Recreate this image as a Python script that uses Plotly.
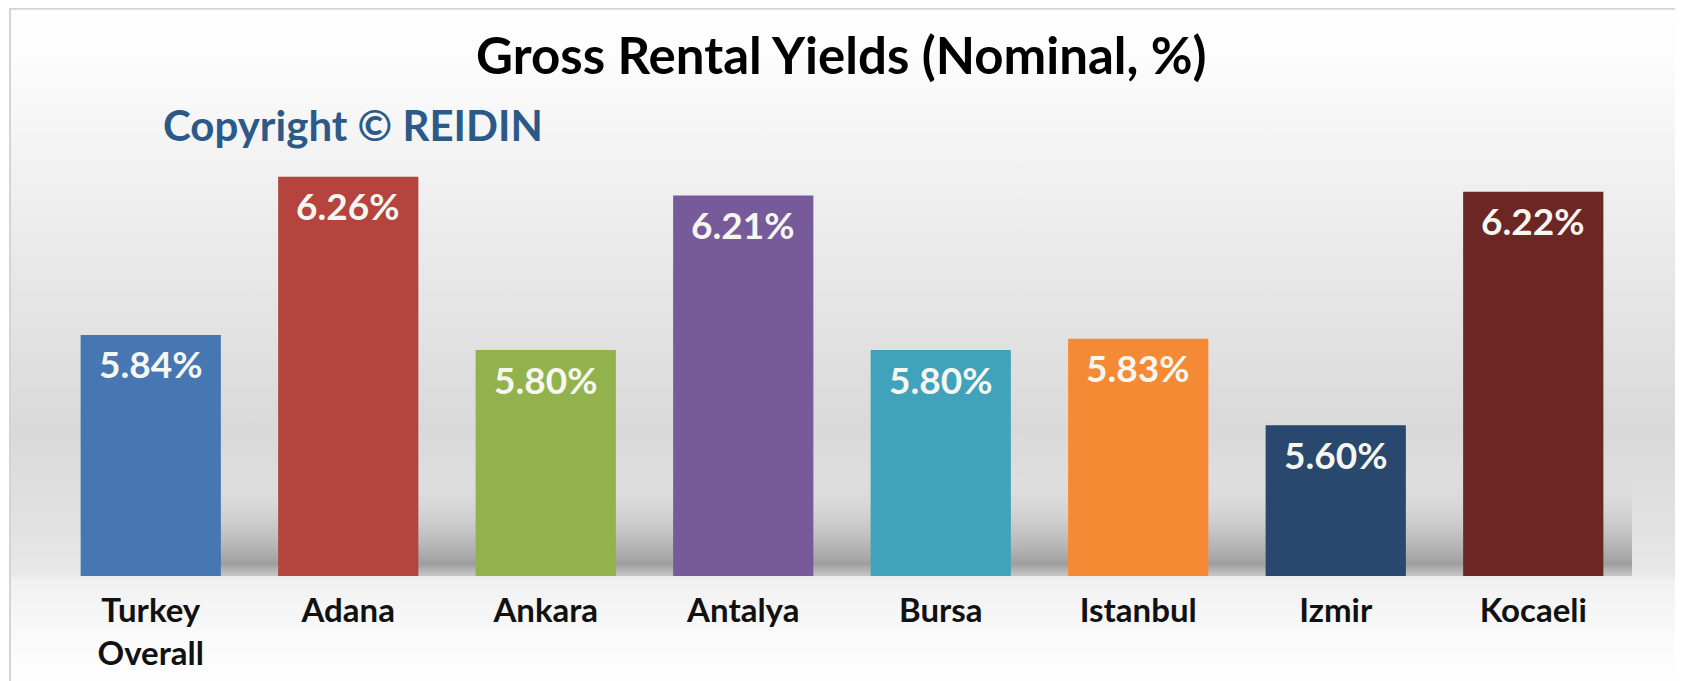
import plotly.graph_objects as go

# ---- data ----
categories = ["Turkey<br>Overall", "Adana", "Ankara", "Antalya", "Bursa", "Istanbul", "Izmir", "Kocaeli"]
yields = [5.84, 6.26, 5.80, 6.21, 5.80, 5.83, 5.60, 6.22]
labels = ["5.84%", "6.26%", "5.80%", "6.21%", "5.80%", "5.83%", "5.60%", "6.22%"]
bar_colors = ["#4677b3", "#b5443f", "#92b24e", "#775a99", "#41a2bc", "#f58a35", "#29486e", "#6c2624"]

W, H = 1683, 681
OFF = 8  # page body margin offset
Y_MIN, Y_MAX = 5.2, 6.4
BAR_WIDTH = 0.71
FONT = "Lato"

PX0, PX1 = 52 - OFF, 1632 - OFF      # plot area (figure px)
PY0, PY1 = 124 - OFF, 576 - OFF

fig = go.Figure()

# ---- background gradient (full-page pixel subplot) ----
bg_stops = [(0, "#fefefe"), (52, "#fcfcfc"), (142, "#f3f3f3"), (292, "#e5e5e5"),
            (422, "#d9d9d9"), (522, "#e2e2e2"), (567, "#e9e9e9"), (572, "#f1f1f1"),
            (632, "#fafafa"), (681, "#ffffff")]
fig.add_trace(go.Scatter(
    x=[10 - OFF, 1677 - OFF, 1677 - OFF, 10 - OFF, 10 - OFF], y=[0, 0, H, H, 0],
    xaxis="x", yaxis="y",
    mode="lines", line=dict(width=0), fill="toself",
    fillgradient=dict(type="vertical", start=0, stop=H,
                      colorscale=[[p / H, c] for p, c in bg_stops]),
    hoverinfo="skip", showlegend=False))

# ---- soft floor shadow behind bars (own subplot, drawn beneath bars) ----
n = len(categories)
sx0 = -BAR_WIDTH / 2 + 0.1
sx1 = n - 0.5
sh = 0.26
fig.add_trace(go.Scatter(
    x=[sx0, sx1, sx1, sx0, sx0], y=[Y_MIN, Y_MIN, Y_MIN + sh, Y_MIN + sh, Y_MIN],
    xaxis="x2", yaxis="y2", mode="lines", line=dict(width=0), fill="toself",
    fillgradient=dict(type="vertical", start=Y_MIN, stop=Y_MIN + sh,
                      colorscale=[[0, "rgba(170,170,170,0.55)"], [0.12, "rgba(140,140,140,0.8)"],
                                  [0.45, "rgba(165,165,165,0.5)"], [1, "rgba(215,215,215,0)"]]),
    hoverinfo="skip", showlegend=False))

# ---- bars ----
fig.add_trace(go.Bar(
    x=list(range(n)), y=[v - Y_MIN for v in yields], base=Y_MIN,
    xaxis="x3", yaxis="y3", width=BAR_WIDTH,
    marker=dict(color=bar_colors, line=dict(width=0)),
    hoverinfo="skip", showlegend=False))

# ---- data labels ----
for i, (v, t) in enumerate(zip(yields, labels)):
    fig.add_annotation(x=i, y=v, xref="x3", yref="y3", text=t, showarrow=False,
                       yanchor="middle", yshift=-29,
                       font=dict(family=FONT, size=37, color="#f7f7f2", weight="bold"))

# ---- title & copyright ----
fig.add_annotation(x=(841 - OFF) / W, y=1 - (55 - OFF) / H, xref="paper", yref="paper",
                   text="Gross Rental Yields (Nominal, %)", showarrow=False,
                   xanchor="center", yanchor="middle",
                   font=dict(family=FONT, size=51, color="#000000", weight="bold"))
fig.add_annotation(x=(161 - OFF) / W, y=1 - (125 - OFF) / H, xref="paper", yref="paper",
                   text="Copyright © REIDIN", showarrow=False,
                   xanchor="left", yanchor="middle",
                   font=dict(family=FONT, size=42, color="#2c5a88", weight="bold"))

# ---- border ----
fig.add_shape(type="rect", xref="paper", yref="paper",
              x0=(10 - OFF) / W, x1=(1677 - OFF) / W, y0=-0.02, y1=0.999,
              line=dict(color="#d4d4d4", width=2), fillcolor="rgba(0,0,0,0)", layer="above")

ydom = [(H - PY1) / H, (H - PY0) / H]
xdom = [PX0 / W, PX1 / W]
fig.update_layout(
    width=W, height=H,
    margin=dict(l=0, r=0, t=0, b=0),
    paper_bgcolor="#ffffff", plot_bgcolor="rgba(0,0,0,0)",
    showlegend=False,
    xaxis=dict(domain=[0, 1], range=[0, W], visible=False, fixedrange=True),
    yaxis=dict(domain=[0, 1], range=[H, 0], visible=False, fixedrange=True),
    xaxis2=dict(domain=xdom, range=[-0.5, n - 0.5], anchor="y2", visible=False),
    yaxis2=dict(domain=ydom, range=[Y_MIN, Y_MAX], anchor="x2", visible=False),
    xaxis3=dict(domain=xdom, range=[-0.5, n - 0.5], anchor="y3",
                tickvals=list(range(n)), ticktext=categories, ticks="",
                showgrid=False, zeroline=False, showline=False,
                tickfont=dict(family=FONT, size=33, color="#111111", weight="bold"),
                ticklabelstandoff=12),
    yaxis3=dict(domain=ydom, range=[Y_MIN, Y_MAX], anchor="x3",
                visible=False, showgrid=False, zeroline=False),
)

fig.write_html("out.html")
